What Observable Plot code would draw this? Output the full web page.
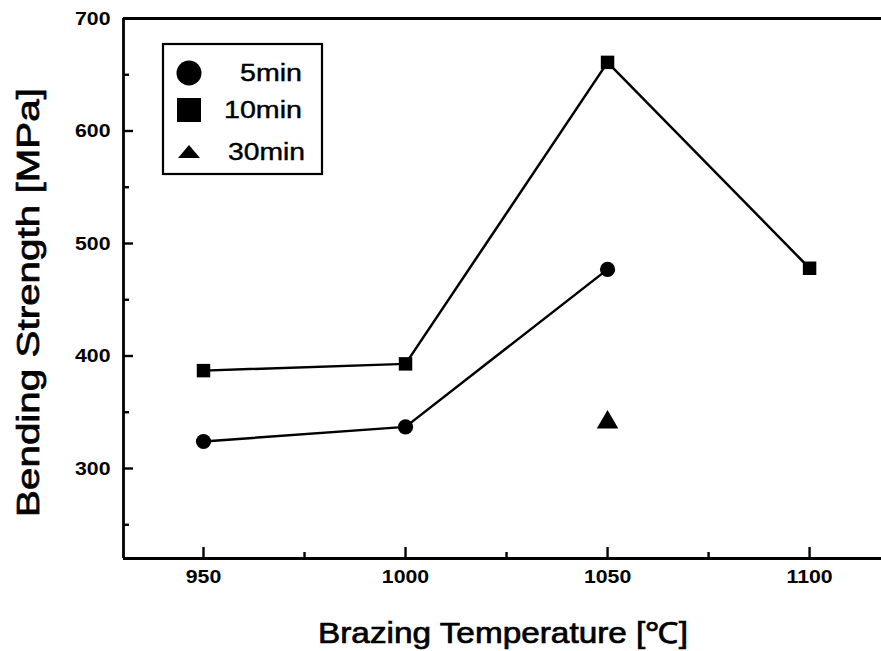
<!DOCTYPE html>
<html><head><meta charset="utf-8">
<script src="https://cdn.jsdelivr.net/npm/d3@7"></script>
<script src="https://cdn.jsdelivr.net/npm/@observablehq/plot@0.6"></script>
<style>body{margin:0;background:#fff}</style>
</head><body><div id="chart"></div>
<script>
// ---- data ----
const temps5 = [950, 1000, 1050];
const strength5 = [324, 337, 477];
const temps10 = [950, 1000, 1050, 1100];
const strength10 = [387, 393, 661, 478];
const temps30 = [1050];
const strength30 = [341];
const xMajor = [950, 1000, 1050, 1100];
const xMinor = [975, 1025, 1075];
const yMajor = [300, 400, 500, 600, 700];
const yMinor = [250, 350, 450, 550, 650];
const seriesNames = ["5min", "10min", "30min"];
const xTitle = "Brazing Temperature [℃]";
const yTitle = "Bending Strength [MPa]";
const xDomain = [930.2, 1117.8];
const yDomain = [220, 700];

const s5 = temps5.map((t, i) => ({t, v: strength5[i]}));
const s10 = temps10.map((t, i) => ({t, v: strength10[i]}));
const s30 = temps30.map((t, i) => ({t, v: strength30[i]}));

const W = 881, H = 651, mL = 123, mT = 18, mB = 93, mR = 0;
const frameH = H - mT - mB, frameW = W - mL - mR;
const font = "'Liberation Sans', Arial, Helvetica, sans-serif";

const plot = Plot.plot({
  width: W, height: H,
  marginLeft: mL, marginTop: mT, marginBottom: mB, marginRight: mR,
  style: {fontFamily: font, background: "white", color: "black", overflow: "visible"},
  x: {domain: xDomain, axis: null},
  y: {domain: yDomain, axis: null},
  marks: [
    Plot.ruleY([yDomain[0]], {stroke: "black", strokeWidth: 2.8}),
    Plot.ruleY([yDomain[1]], {stroke: "black", strokeWidth: 2.8}),
    Plot.ruleX([xDomain[0]], {stroke: "black", strokeWidth: 2.8}),
    Plot.ruleX(xMajor, {x: d => d, insetTop: frameH - 11, stroke: "black", strokeWidth: 2.4}),
    Plot.ruleX(xMinor, {x: d => d, insetTop: frameH - 6, stroke: "black", strokeWidth: 2.4}),
    Plot.ruleY(yMajor, {y: d => d, insetRight: frameW - 10, stroke: "black", strokeWidth: 2.4}),
    Plot.ruleY(yMinor, {y: d => d, insetRight: frameW - 6, stroke: "black", strokeWidth: 2.4}),
    Plot.text(xMajor, {x: d => d, text: d => String(d), frameAnchor: "bottom", dy: 24, fontSize: 19, fontWeight: "bold", fill: "black"}),
    Plot.text(yMajor, {y: d => d, text: d => String(d), frameAnchor: "left", dx: -13, textAnchor: "end", fontSize: 19, fontWeight: "bold", fill: "black"}),
    Plot.line(s5, {x: "t", y: "v", stroke: "black", strokeWidth: 2.5}),
    Plot.line(s10, {x: "t", y: "v", stroke: "black", strokeWidth: 2.5}),
    Plot.dot(s5, {x: "t", y: "v", symbol: "circle", r: 7.6, fill: "black", stroke: "none"}),
    Plot.dot(s10, {x: "t", y: "v", symbol: "square", r: 7.6, fill: "black", stroke: "none"}),
    Plot.dot(s30, {x: "t", y: "v", symbol: "triangle", r: 8, fill: "black", stroke: "none"})
  ]
});
document.getElementById("chart").appendChild(plot);

const svg = d3.select(plot);
// stretch tick labels slightly, like the scanned original
svg.selectAll('g[aria-label="text"] text').each(function () {
  const w = this.getComputedTextLength();
  this.setAttribute("textLength", w * 1.12);
  this.setAttribute("lengthAdjust", "spacingAndGlyphs");
});

// axis titles
svg.append("text")
  .attr("x", 503).attr("y", 643)
  .attr("text-anchor", "middle")
  .attr("font-family", font).attr("font-size", 29).attr("fill", "black")
  .attr("stroke", "black").attr("stroke-width", 0.7)
  .attr("textLength", 370).attr("lengthAdjust", "spacingAndGlyphs")
  .text(xTitle);
svg.append("text")
  .attr("transform", "translate(39,302.5) rotate(-90)")
  .attr("text-anchor", "middle")
  .attr("font-family", font).attr("font-size", 32).attr("fill", "black")
  .attr("stroke", "black").attr("stroke-width", 0.7)
  .attr("textLength", 429).attr("lengthAdjust", "spacingAndGlyphs")
  .text(yTitle);

// legend
const lg = svg.append("g").attr("transform", "translate(163,44)");
lg.append("rect").attr("x", 0).attr("y", 0).attr("width", 159).attr("height", 130)
  .attr("fill", "white").attr("stroke", "black").attr("stroke-width", 2.2);
lg.append("circle").attr("cx", 26).attr("cy", 29).attr("r", 12.5).attr("fill", "black");
lg.append("rect").attr("x", 14).attr("y", 54).attr("width", 24).attr("height", 24).attr("fill", "black");
lg.append("path").attr("d", "M15,114 L37,114 L26,101 Z").attr("fill", "black");
const legRows = [
  {name: seriesNames[0], y: 29, end: 139, len: 62},
  {name: seriesNames[1], y: 66, end: 139, len: 78},
  {name: seriesNames[2], y: 108, end: 142, len: 77}
];
legRows.forEach(r => {
  lg.append("text")
    .attr("x", r.end).attr("y", r.y).attr("dy", "0.35em")
    .attr("text-anchor", "end")
    .attr("font-family", font).attr("font-size", 23).attr("fill", "black")
    .attr("stroke", "black").attr("stroke-width", 0.4)
    .attr("textLength", r.len).attr("lengthAdjust", "spacingAndGlyphs")
    .text(r.name);
});
</script>
</body></html>
